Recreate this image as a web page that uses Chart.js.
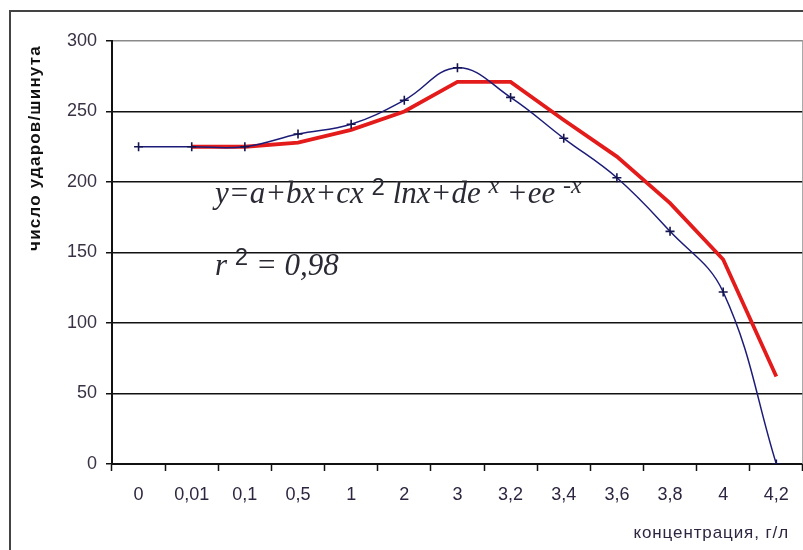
<!DOCTYPE html>
<html>
<head>
<meta charset="utf-8">
<script src="https://cdn.jsdelivr.net/npm/chart.js@4"></script>
<style>
  html, body { margin: 0; padding: 0; background: #fff; overflow: hidden; }
  #wrap { width: 809px; height: 550px; position: relative; }
</style>
</head>
<body>
<div id="wrap"><canvas id="myLineChart"></canvas></div>
<script>
"use strict";

// concentration, g/l
const concentrations = ['0', '0,01', '0,1', '0,5', '1', '2', '3', '3,2', '3,4', '3,6', '3,8', '4', '4,2'];
// measured beats per minute
const measured = [225, 225, 225, 234, 241, 258, 281, 260, 231, 203, 165, 122, 0];
// fitted curve
const fitted = [null, 225, 225, 228, 237, 250, 271, 271, 244, 218, 185, 145, 62];
const yTicks = [0, 50, 100, 150, 200, 250, 300];

const AX_FONT = '"Liberation Sans", Arial, sans-serif';
const SERIF = '"Liberation Serif", "Times New Roman", serif';

/**
 * Writes a run of text pieces with raised superscripts
 */
function writeParts(ctx, parts, x, baseline) {
    parts.forEach(p => {
        ctx.font = p[2];
        ctx.fillText(p[0], x, baseline + p[1]);
        x += ctx.measureText(p[0]).width;
    });
}

/**
 * Draws the frame, titles and formula text
 */
const decorations = {
    id: 'decorations',
    afterDraw(chart) {
        const ctx = chart.ctx;
        const area = chart.chartArea;
        ctx.save();

        // outer frame
        ctx.strokeStyle = '#444';
        ctx.lineWidth = 2;
        ctx.beginPath();
        ctx.moveTo(10, 550);
        ctx.lineTo(10, 11);
        ctx.lineTo(809, 11);
        ctx.stroke();

        // right border of plot
        ctx.strokeStyle = '#9a9a9a';
        ctx.lineWidth = 1.5;
        ctx.beginPath();
        ctx.moveTo(area.right, area.top);
        ctx.lineTo(area.right, area.bottom);
        ctx.stroke();

        // y axis title
        ctx.fillStyle = '#111';
        ctx.font = 'bold 17px ' + AX_FONT;
        ctx.letterSpacing = '1.2px';
        ctx.textAlign = 'center';
        ctx.textBaseline = 'middle';
        ctx.translate(35, 148);
        ctx.rotate(-Math.PI / 2);
        ctx.fillText('число ударов/шинута', 0, 0);
        ctx.setTransform(1, 0, 0, 1, 0, 0);

        // x axis title
        ctx.fillStyle = '#2e2640';
        ctx.font = '17px ' + AX_FONT;
        ctx.letterSpacing = '0.9px';
        ctx.textAlign = 'right';
        ctx.fillText('концентрация, г/л', 789, 533);
        ctx.letterSpacing = '0px';

        // formula
        ctx.fillStyle = '#2a2a35';
        ctx.textAlign = 'left';
        ctx.textBaseline = 'alphabetic';
        writeParts(ctx, [
            ['y=a+bx+cx ', 0, 'italic 31px ' + SERIF],
            ['2', -8, '24px ' + AX_FONT],
            [' lnx+de ', 0, 'italic 31px ' + SERIF],
            ['x', -10, 'italic 24px ' + SERIF],
            [' +ee ', 0, 'italic 31px ' + SERIF],
            ['-x', -10, 'italic 24px ' + SERIF]
        ], 215, 203);

        writeParts(ctx, [
            ['r ', 0, 'italic 31px ' + SERIF],
            ['2', -10, '24px ' + AX_FONT],
            [' = 0,98', 0, 'italic 31px ' + SERIF]
        ], 215, 275);

        ctx.restore();
    }
};

renderChart();

/**
 * Renders the line chart using chart.js
 */
function renderChart() {
    const lineCtx = document.getElementById('myLineChart');

    new Chart(lineCtx, {
        type: 'line',
        data: {
            labels: concentrations,
            datasets: [{
                label: 'measured',
                data: measured,
                borderColor: '#1c1c78',
                borderWidth: 1.5,
                tension: 0.4,
                pointStyle: 'cross',
                pointRadius: 4.5,
                pointBorderWidth: 1.6,
                pointBorderColor: '#141450',
                pointBackgroundColor: '#141450'
            }, {
                label: 'fitted',
                data: fitted,
                borderColor: '#e41b1b',
                borderWidth: 3.8,
                tension: 0,
                pointRadius: 0
            }]
        },
        options: {
            responsive: true,
            maintainAspectRatio: false,
            animation: false,
            layout: { padding: { left: 0, right: 1, top: 41, bottom: 0 } },
            plugins: {
                legend: { display: false },
                tooltip: { enabled: false }
            },
            scales: {
                x: {
                    offset: true,
                    afterFit(scale) { scale.height = 86; },
                    grid: {
                        offset: true,
                        drawOnChartArea: false,
                        tickLength: 7,
                        tickColor: '#111',
                        tickWidth: 1.5
                    },
                    border: { color: '#111', width: 2 },
                    ticks: {
                        color: '#2e2640',
                        font: { family: AX_FONT, size: 18 },
                        padding: 13,
                        maxRotation: 0,
                        autoSkip: false
                    }
                },
                y: {
                    min: 0,
                    max: 300,
                    afterFit(scale) { scale.width = 112; },
                    afterBuildTicks(scale) {
                        scale.ticks = yTicks.map(v => ({ value: v }));
                    },
                    grid: {
                        color: ctx => ctx.tick && ctx.tick.value === 300 ? '#8a8a8a' : '#111',
                        lineWidth: 1.5,
                        tickLength: 6,
                        tickColor: '#111'
                    },
                    border: { color: '#111', width: 2 },
                    ticks: {
                        color: '#3a3244',
                        font: { family: AX_FONT, size: 18 },
                        padding: 9
                    }
                }
            }
        },
        plugins: [decorations]
    });
}
</script>
</body>
</html>
